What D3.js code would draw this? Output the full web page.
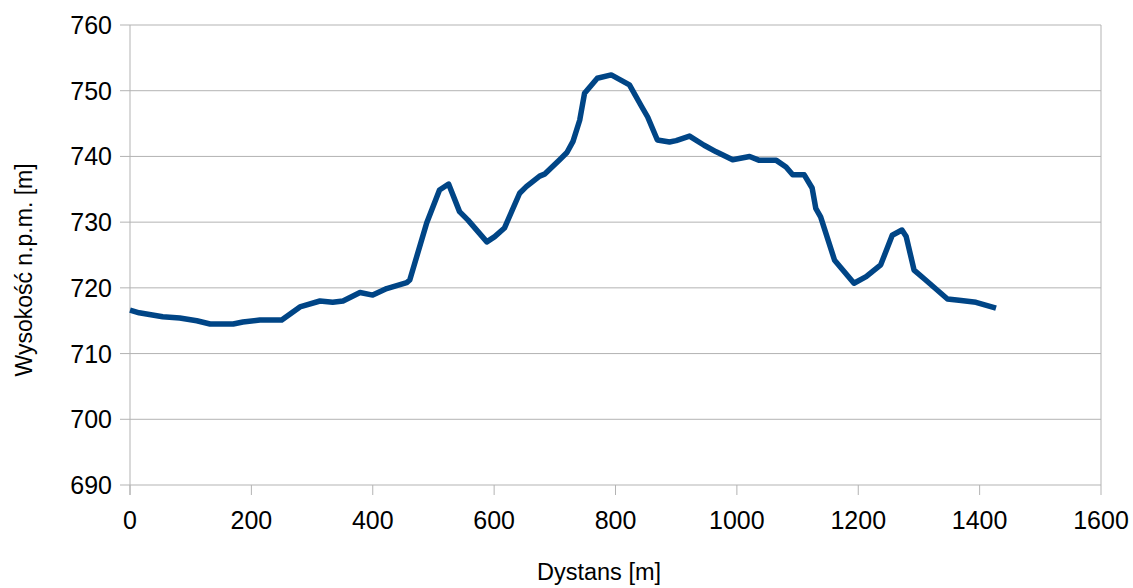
<!DOCTYPE html>
<html><head><meta charset="utf-8">
<script src="https://cdn.jsdelivr.net/npm/d3@7"></script>
<style>body{margin:0;background:#fff}svg{display:block}text{font-family:"Liberation Sans",Arial,sans-serif}</style>
</head><body>
<svg id="c" width="1133" height="588"></svg>
<script>
const distance = [0,15,54,82,110,132,170,186,214,250,280,313,334,351,379,400,423,456,461,489,510,525,543,557,588,601,617,642,653,675,683,708,720,730,741,749,770,793,823,843,853,869,889,900,922,946,966,993,1021,1037,1065,1081,1092,1111,1124,1130,1138,1161,1193,1213,1237,1256,1272,1279,1292,1311,1347,1366,1394,1427];
const elevation = [716.6,716.2,715.6,715.4,715.0,714.5,714.5,714.8,715.1,715.1,717.1,718.0,717.8,718.0,719.3,718.9,719.9,720.8,721.2,729.9,734.9,735.8,731.6,730.3,727.0,727.8,729.1,734.4,735.4,737.0,737.3,739.5,740.6,742.3,745.5,749.6,751.9,752.4,750.9,747.6,746.0,742.5,742.2,742.4,743.1,741.7,740.7,739.5,740.0,739.4,739.4,738.4,737.2,737.2,735.2,732.1,730.8,724.2,720.7,721.7,723.5,728.0,728.8,727.8,722.7,721.2,718.3,718.1,717.8,716.9];
const xTicks = [0,200,400,600,800,1000,1200,1400,1600];
const yTicks = [690,700,710,720,730,740,750,760];

const svg = d3.select("#c");
const L=130,R=1101,T=25,B=485;
const x = d3.scaleLinear().domain([0,1600]).range([L,R]);
const y = d3.scaleLinear().domain([690,760]).range([B,T]);
const grid="#b3b3b3";

svg.append("g").selectAll("line").data(yTicks).join("line")
  .attr("x1",L-10).attr("x2",R).attr("y1",d=>y(d)).attr("y2",d=>y(d))
  .attr("stroke",grid).attr("stroke-width",1);
svg.append("line").attr("x1",R).attr("x2",R).attr("y1",T).attr("y2",B).attr("stroke",grid);
svg.append("line").attr("x1",L).attr("x2",L).attr("y1",T).attr("y2",B+10).attr("stroke",grid);
svg.append("g").selectAll("line").data(xTicks).join("line")
  .attr("x1",d=>x(d)).attr("x2",d=>x(d)).attr("y1",B).attr("y2",B+10)
  .attr("stroke",grid);

svg.append("g").selectAll("text").data(yTicks).join("text")
  .attr("x",112).attr("y",d=>y(d)).attr("dy","0.36em").attr("text-anchor","end")
  .attr("font-size",25).attr("fill","#000").text(d=>d);
svg.append("g").selectAll("text").data(xTicks).join("text")
  .attr("x",d=>x(d)).attr("y",529).attr("text-anchor","middle")
  .attr("font-size",25).attr("fill","#000").text(d=>d);

svg.append("text").attr("x",599).attr("y",580).attr("text-anchor","middle")
  .attr("font-size",23.5).text("Dystans [m]");
svg.append("text").attr("transform","translate(32,270) rotate(-90)").attr("text-anchor","middle")
  .attr("font-size",23).text("Wysokość n.p.m. [m]");

const pts = distance.map((d,i)=>[d,elevation[i]]);
svg.append("path").datum(pts)
  .attr("d",d3.line().x(d=>x(d[0])).y(d=>y(d[1])))
  .attr("fill","none").attr("stroke","#004586").attr("stroke-width",5.5)
  .attr("stroke-linejoin","round").attr("stroke-linecap","butt");
</script>
</body></html>
